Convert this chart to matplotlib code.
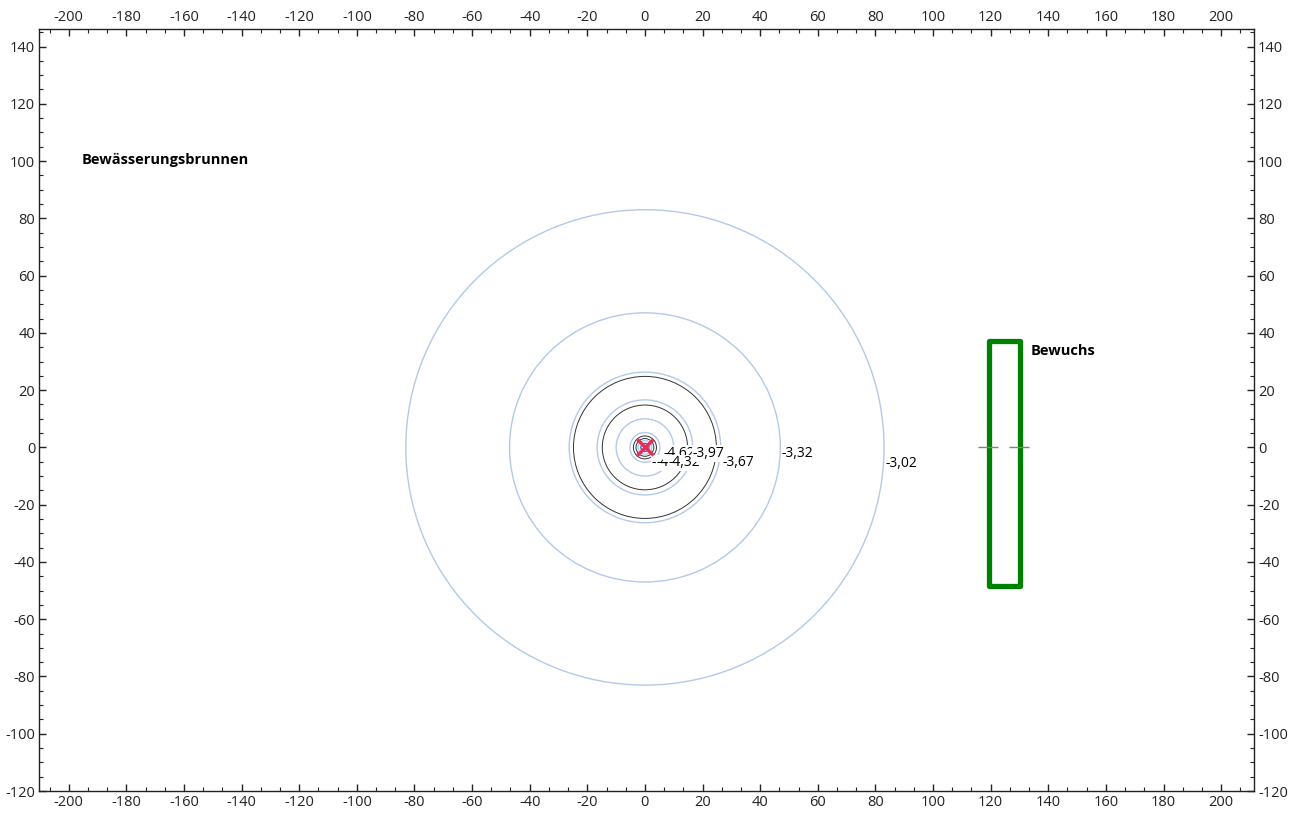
import matplotlib
matplotlib.use("Agg")
import matplotlib.pyplot as plt
from matplotlib.ticker import MultipleLocator, AutoMinorLocator
from matplotlib.patches import Circle, Rectangle

plt.rcParams["font.family"] = ["Open Sans", "DejaVu Sans"]
plt.rcParams["axes.unicode_minus"] = False

# Isolinien (Absenkung) um den Brunnen
level_labels = ["-3,02", "-3,32", "-3,67", "-3,97", "-4,32", "-4,62", "-4,97", "-5,27"]
level_radii = [83.0, 47.0, 26.3, 16.6, 10.0, 5.2, 2.4, 1.4]
label_x = [83.5, 47.4, 26.8, 16.6, 8.2, 6.4, 4.0, 2.4]
label_y = [-5.6, -2.1, -5.2, -2.1, -5.4, -2.1, -5.4, -5.4]

# schwarze Kreise
black_radii = [24.8, 14.8, 4.0, 3.1]

# Brunnen
well_x = [0.0]
well_y = [0.0]

# Bewuchs (Rechteck)
veg_x0, veg_x1 = 119.5, 130.3
veg_y0, veg_y1 = -48.3, 37.1

fig = plt.figure(figsize=(12.98, 8.15), dpi=100)
ax = fig.add_axes([0.0303, 0.0294, 0.9358, 0.9346])

for i, r in enumerate(level_radii):
    col = "#3a5fcd" if i == len(level_radii) - 1 else "#b3c9ea"
    ax.add_patch(Circle((well_x[0], well_y[0]), r, fill=False, ec=col, lw=1.0, zorder=2))

for r in black_radii:
    ax.add_patch(Circle((well_x[0], well_y[0]), r, fill=False, ec="#333333", lw=0.7, zorder=2))

# innere Beschriftungen zuerst, damit die äußeren sie überdecken (wie im Original)
for i in reversed(range(len(level_labels))):
    ax.text(label_x[i], label_y[i], level_labels[i], fontsize=10, ha="left", va="center",
            color="black", zorder=3 + (len(level_labels) - i) * 0.01,
            bbox=dict(facecolor="white", edgecolor="none", pad=0.5))

ax.plot(well_x, well_y, marker="x", color="#e0305a", markersize=11, mew=2.4, ls="none", zorder=5)

ax.add_patch(Rectangle((veg_x0, veg_y0), veg_x1 - veg_x0, veg_y1 - veg_y0, fill=False,
                       ec="#008000", lw=3.8, joinstyle="round", zorder=4))
ax.plot([veg_x0 - 0.5, veg_x1 - 0.3], [0, 0], marker="_", color="#808080", markersize=14,
        mew=1.0, ls="none", zorder=5)

ax.text(-195.6, 100.4, "Bewässerungsbrunnen", fontsize=10.5, fontweight="bold", ha="left", va="center")
ax.text(133.8, 33.6, "Bewuchs", fontsize=10.5, fontweight="bold", ha="left", va="center")

ax.set_xlim(-210.2, 211.4)
ax.set_ylim(-120, 146)
ax.xaxis.set_major_locator(MultipleLocator(20))
ax.xaxis.set_minor_locator(AutoMinorLocator(3))
ax.yaxis.set_major_locator(MultipleLocator(20))
ax.yaxis.set_minor_locator(AutoMinorLocator(4))
ax.tick_params(which="both", direction="in", top=True, right=True,
               labeltop=True, labelright=True, labelsize=10.5, colors="#222222")
ax.tick_params(which="major", length=5, width=1, pad=3)
ax.tick_params(which="minor", length=3, width=0.8)
for s in ax.spines.values():
    s.set_linewidth(1.0)
    s.set_color("#222222")

fig.savefig("out.png", dpi=100)
